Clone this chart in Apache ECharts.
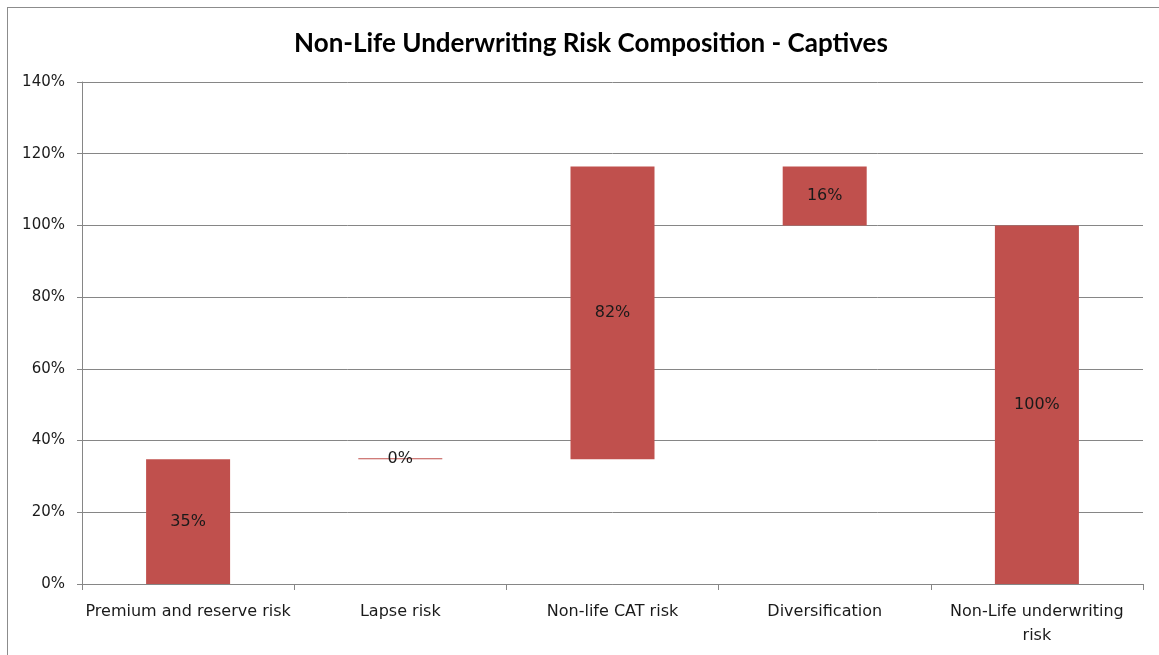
<!DOCTYPE html>
<html>
<head>
<meta charset="utf-8">
<script src="https://cdn.jsdelivr.net/npm/echarts@6/dist/echarts.min.js"></script>
<style>
  html, body { margin: 0; padding: 0; background: #fff; }
  #frame {
    position: absolute; left: 7px; top: 7px;
    width: 1160px; height: 660px;
    border: 1px solid #8c8c8c;
  }
  #myChart { position: absolute; left: 0; top: 0; width: 1159px; height: 655px; }
</style>
</head>
<body>
<div id="frame"></div>
<div id="myChart"></div>
<script>
// categories and values (percent)
const categories = [
  "Premium and reserve risk",
  "Lapse risk",
  "Non-life CAT risk",
  "Diversification",
  "Non-Life underwriting risk"
];
const baseValues = [0, 34.8, 34.8, 100, 0];
const barValues = [34.8, 0, 81.6, 16.4, 100];
const yTicks = [0, 20, 40, 60, 80, 100, 120, 140];

const chartDom = document.getElementById("myChart");
const myChart = echarts.init(chartDom);

const font = "DejaVu Sans";
const gray = "#868686";

const option = {
  animation: false,
  title: {
    text: "Non-Life Underwriting Risk Composition - Captives",
    left: 586,
    top: 26,
    textAlign: "center",
    textStyle: {
      fontFamily: "Lato",
      fontWeight: "bold",
      fontSize: 26,
      color: "#000"
    }
  },
  grid: {
    left: 82,
    right: 16,
    top: 82,
    bottom: 71,
    containLabel: false
  },
  xAxis: {
    type: "category",
    data: categories,
    axisLine: { lineStyle: { color: gray } },
    axisTick: { show: true, length: 6, lineStyle: { color: gray } },
    axisLabel: {
      interval: 0,
      margin: 16,
      lineHeight: 24,
      fontFamily: font,
      fontSize: 16,
      color: "#1a1a1a",
      // Excel wraps the long last label onto two lines
      formatter: function (value) {
        return value.replace("underwriting risk", "underwriting\nrisk");
      }
    }
  },
  yAxis: {
    type: "value",
    min: yTicks[0],
    max: yTicks[yTicks.length - 1],
    interval: 20,
    axisLine: { show: true, lineStyle: { color: gray } },
    axisTick: { show: true, length: 5, lineStyle: { color: gray } },
    splitLine: { show: true, lineStyle: { color: gray, width: 1 } },
    axisLabel: {
      margin: 17,
      fontFamily: font,
      fontSize: 15,
      color: "#1a1a1a",
      formatter: function (value) {
        return value + "%";
      }
    }
  },
  series: [
    {
      type: "bar",
      stack: "w",
      data: baseValues,
      barWidth: 84,
      itemStyle: { color: "transparent" },
      silent: true
    },
    {
      type: "bar",
      stack: "w",
      data: barValues,
      barWidth: 84,
      barMinHeight: 1,
      itemStyle: { color: "#C0504D" },
      label: {
        show: true,
        position: "inside",
        fontFamily: font,
        fontSize: 16,
        color: "#1a1a1a",
        formatter: function (p) {
          return Math.round(p.value) + "%";
        }
      }
    }
  ]
};

myChart.setOption(option);
</script>
</body>
</html>
